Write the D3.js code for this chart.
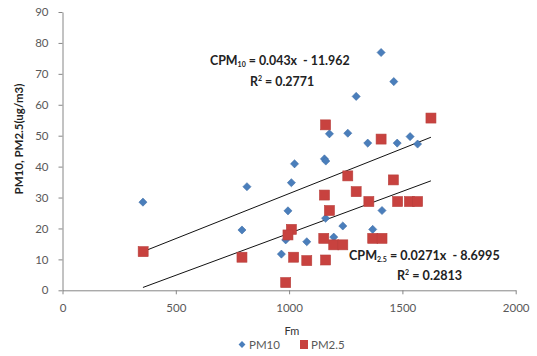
<!DOCTYPE html>
<meta charset="utf-8">
<style>
body { margin: 0; background: #fff; }
text { font-family: Lato, "Open Sans", sans-serif; white-space: pre; }
</style>
<body>
<script src="https://d3js.org/d3.v7.min.js"></script>
<script>
var width = 537,
    height = 356;

// PM10 readings [Fm, concentration]
var pm10 = [
  [355, 28.5], [814, 33.5], [792, 19.5], [1024, 40.9], [1156, 42.5], [1162, 41.8],
  [1010, 34.8], [995, 25.7], [1161, 23.3], [1237, 20.8], [1078, 15.7], [966, 11.7],
  [985, 16.3], [1197, 17.2], [1369, 19.7], [1410, 25.8], [1406, 76.9], [1296, 62.7],
  [1178, 50.6], [1259, 50.8], [1347, 47.6], [1462, 67.5], [1477, 47.6], [1534, 49.7],
  [1567, 47.3]
];

// PM2.5 readings
var pm25 = [
  [356, 12.5], [792, 10.7], [1259, 37.0], [1156, 30.8], [1296, 31.9], [1352, 28.7],
  [1178, 25.8], [1010, 19.7], [995, 17.9], [1153, 16.8], [1197, 14.7], [1237, 14.7],
  [1020, 10.7], [1078, 9.6], [1161, 9.8], [985, 2.5], [1369, 16.8], [1410, 16.8],
  [1161, 53.5], [1406, 48.9], [1626, 55.7], [1460, 35.7], [1479, 28.7], [1531, 28.7],
  [1567, 28.7]
];

// trend lines as drawn in the chart (end points)
var trend10 = [[355, 12.5], [1626, 49.5]];
var trend25 = [[355, 0.92], [1626, 35.4]];

var xTicks = [0, 500, 1000, 1500, 2000];
var yTicks = [0, 10, 20, 30, 40, 50, 60, 70, 80, 90];

var x = d3.scaleLinear().domain([0, 2000]).range([62.5, 515.7]);
var y = d3.scaleLinear().domain([0, 90]).range([290.3, 12]);

var svg = d3.select("body").append("svg")
    .attr("width", width)
    .attr("height", height);

var axisColor = "#868686",
    labelColor = "#595959";

var gx = svg.append("g")
    .attr("transform", "translate(0," + y(0) + ")")
    .call(d3.axisBottom(x).tickValues(xTicks).tickFormat(d3.format("d"))
      .tickSize(4).tickPadding(10).tickSizeOuter(0));
var gy = svg.append("g")
    .attr("transform", "translate(" + x(0) + ",0)")
    .call(d3.axisLeft(y).tickValues(yTicks).tickFormat(d3.format("d"))
      .tickSize(4).tickPadding(10).tickSizeOuter(0));

[gx, gy].forEach(function(g) {
  g.select(".domain").attr("stroke", axisColor);
  g.selectAll(".tick line").attr("stroke", axisColor);
  g.selectAll(".tick text")
    .attr("fill", labelColor)
    .style("font-size", "11.5px")
    .style("font-family", "Lato, 'Open Sans', sans-serif");
});

// trend lines
var line = d3.line().x(function(d) { return x(d[0]); }).y(function(d) { return y(d[1]); });
[trend10, trend25].forEach(function(t) {
  svg.append("path")
    .attr("d", line(t))
    .attr("fill", "none")
    .attr("stroke", "#111")
    .attr("stroke-width", 1);
});

var diamond = d3.symbol().type(d3.symbolDiamond2).size(42);

svg.append("g").selectAll("path")
  .data(pm10)
  .join("path")
    .attr("d", diamond)
    .attr("transform", function(d) { return "translate(" + x(d[0]) + "," + y(d[1]) + ")"; })
    .attr("fill", "#4A7EBB")
    .attr("stroke", "#3F6FA8")
    .attr("stroke-width", 0.6);

var sq = 10;
svg.append("g").selectAll("rect")
  .data(pm25)
  .join("rect")
    .attr("x", function(d) { return x(d[0]) - sq / 2; })
    .attr("y", function(d) { return y(d[1]) - sq / 2; })
    .attr("width", sq)
    .attr("height", sq)
    .attr("fill", "#C8423F")
    .attr("stroke", "#B8403C")
    .attr("stroke-width", 0.6);

// equations
function equation(xp, yp, sub, rest, r2x, r2y, r2, fs) {
  var t = svg.append("text")
    .attr("x", xp).attr("y", yp)
    .attr("fill", "#222")
    .style("font-size", fs + "px")
    .style("font-weight", "bold");
  t.append("tspan").text("CPM");
  t.append("tspan").attr("dy", 2).style("font-size", "7px").text(sub);
  t.append("tspan").attr("dy", -2).text(rest);
  var r = svg.append("text")
    .attr("x", r2x).attr("y", r2y)
    .attr("fill", "#222")
    .style("font-size", fs + "px")
    .style("font-weight", "bold");
  r.append("tspan").text("R");
  r.append("tspan").attr("dy", -5).style("font-size", "7px").text("2");
  r.append("tspan").attr("dy", 5).text(" = " + r2);
}
equation(210, 65, "10", " = 0.043x  - 11.962", 250, 86, "0.2771", 12.4);
equation(349, 260, "2.5", " = 0.0271x  - 8.6995", 397, 280, "0.2813", 12.6);

// axis titles
svg.append("text")
  .attr("transform", "translate(23,139) rotate(-90)")
  .attr("text-anchor", "middle")
  .attr("fill", "#222")
  .style("font-size", "11.5px")
  .style("font-weight", "bold")
  .text("PM10, PM2.5(ug/m3)");

svg.append("text")
  .attr("x", 292).attr("y", 335)
  .attr("text-anchor", "middle")
  .attr("fill", "#333")
  .style("font-size", "11px")
  .text("Fm");

// legend
var leg = svg.append("g");
leg.append("path")
  .attr("d", d3.symbol().type(d3.symbolDiamond2).size(30))
  .attr("transform", "translate(242,344.5)")
  .attr("fill", "#4A7EBB");
leg.append("text")
  .attr("x", 249).attr("y", 349)
  .attr("fill", labelColor)
  .style("font-size", "11.5px")
  .text("PM10");
leg.append("rect")
  .attr("x", 300).attr("y", 340)
  .attr("width", 8).attr("height", 9)
  .attr("fill", "#C8423F");
leg.append("text")
  .attr("x", 311).attr("y", 349)
  .attr("fill", labelColor)
  .style("font-size", "11.5px")
  .text("PM2.5");
</script>
</body>
